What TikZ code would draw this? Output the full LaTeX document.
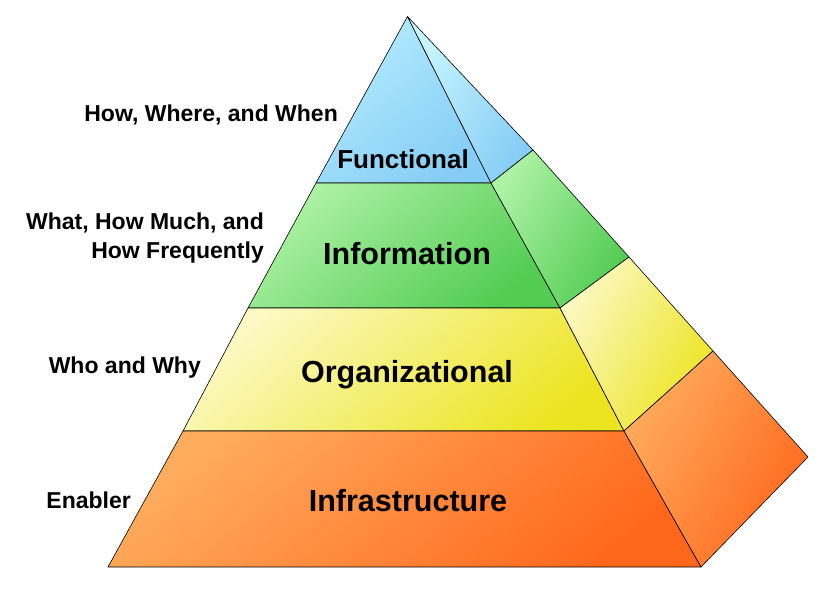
\documentclass[tikz,border=0pt]{standalone}
\usepackage{fontspec}
\setmainfont{Liberation Sans}

\definecolor{funLight}{HTML}{B4ECFF}
\definecolor{funDark}{HTML}{86CDF5}
\definecolor{funSide}{HTML}{C8F6FF}
\definecolor{infLight}{HTML}{AEF2A6}
\definecolor{infDark}{HTML}{52CC52}
\definecolor{orgLight}{HTML}{FCF9C4}
\definecolor{orgDark}{HTML}{ECE420}
\definecolor{bseLight}{HTML}{FFAC5E}
\definecolor{bseDark}{HTML}{FF681C}

\tikzset{
  face/.style={draw=black, line width=0.6pt, line join=round},
  front/.style 2 args={face, top color=#1, middle color=#2!85!#1, bottom color=#2, shading angle=40},
  side/.style 2 args={face, top color=#1, bottom color=#2, shading angle=60},
  layer/.style={font=\bfseries\fontsize{30.5}{36}\selectfont},
  note/.style={font=\bfseries\fontsize{23}{28.5}\selectfont, align=right, inner sep=0pt},
}

\begin{document}
\begin{tikzpicture}[x=1pt, y=-1pt]
  \useasboundingbox (0,0) rectangle (837,593);

  % corners
  \coordinate (apex) at (407.5,16.5);
  \coordinate (f1) at (316,183);
  \coordinate (f2) at (491,183);
  \coordinate (s1) at (533,150);
  \coordinate (i1) at (248,308);
  \coordinate (i2) at (560,308);
  \coordinate (s2) at (629,257);
  \coordinate (o1) at (183,431);
  \coordinate (o2) at (624,431);
  \coordinate (s3) at (713,351);
  \coordinate (b1) at (108,567);
  \coordinate (b2) at (701,567);
  \coordinate (s4) at (808,457);

  % Functional
  \path[front={funLight}{funDark}] (apex) -- (f1) -- (f2) -- cycle;
  \path[side={funSide}{funDark}] (apex) -- (f2) -- (s1) -- cycle;

  % Information
  \path[front={infLight}{infDark}] (f1) -- (i1) -- (i2) -- (f2) -- cycle;
  \path[side={infLight}{infDark}] (f2) -- (i2) -- (s2) -- (s1) -- cycle;

  % Organizational
  \path[front={orgLight}{orgDark}] (i1) -- (o1) -- (o2) -- (i2) -- cycle;
  \path[side={orgLight}{orgDark}] (i2) -- (o2) -- (s3) -- (s2) -- cycle;

  % Infrastructure
  \path[front={bseLight}{bseDark}] (o1) -- (b1) -- (b2) -- (o2) -- cycle;
  \path[side={bseLight}{bseDark}] (o2) -- (b2) -- (s4) -- (s3) -- cycle;

  % layer names
  \node[layer, font=\bfseries\fontsize{26}{30}\selectfont] (fun) at (403,159) {Functional};
  \node[layer] (inf) at (407,254) {Information};
  \node[layer] (org) at (407,375) {Organizational};
  \node[layer] (bse) at (408,501) {Infrastructure};

  % questions on the left
  \node[note, anchor=east] (funnote) at (338,115) {How, Where, and When};
  \node[note, anchor=east] (infnote) at (264,238) {What, How Much, and\\How Frequently};
  \node[note, anchor=east] (orgnote) at (201,368) {Who and Why};
  \node[note, anchor=east] (bsenote) at (131,500) {Enabler};
\end{tikzpicture}
\end{document}
